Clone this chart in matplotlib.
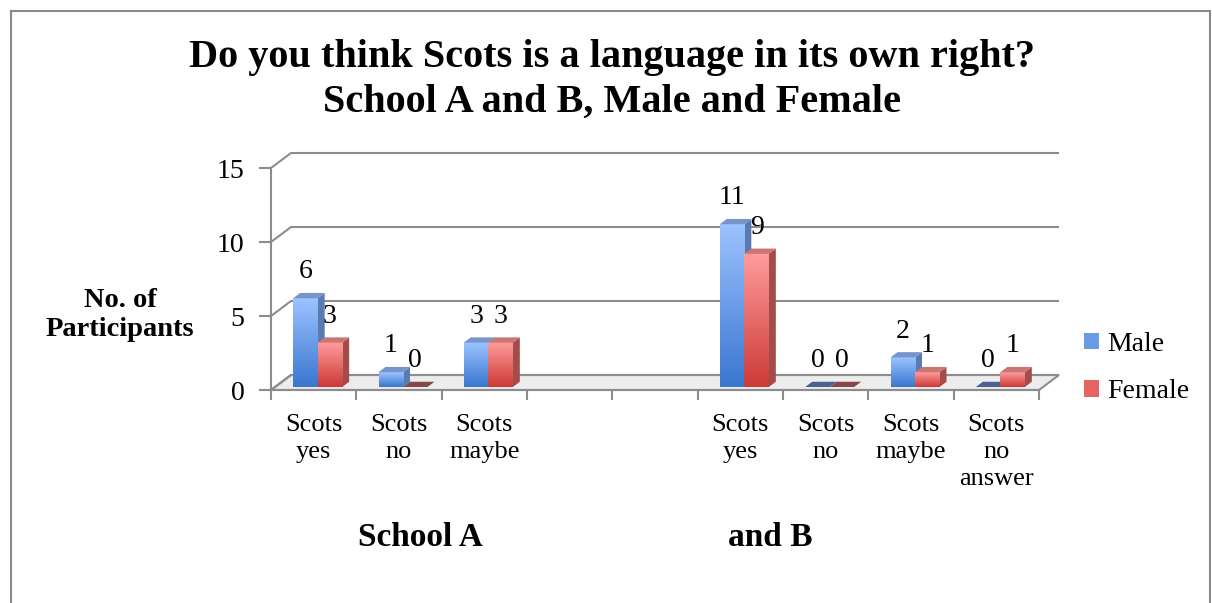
import numpy as np
import matplotlib.pyplot as plt
from matplotlib.patches import Polygon, Rectangle, Patch
from matplotlib.colors import LinearSegmentedColormap

plt.rcParams['font.family'] = ['Liberation Serif', 'DejaVu Serif']

# chart data
categories = ['Scots\nyes', 'Scots\nno', 'Scots\nmaybe', '', '',
              'Scots\nyes', 'Scots\nno', 'Scots\nmaybe', 'Scots\nno\nanswer']
male = [6, 1, 3, None, None, 11, 0, 2, 0]
female = [3, 0, 3, None, None, 9, 0, 1, 1]
series_names = ['Male', 'Female']
group_labels = ['School A', 'and B']
y_ticks = [0, 5, 10, 15]

W, H = 1212, 603
fig = plt.figure(figsize=(W / 100, H / 100), dpi=100)
fig.patch.set_facecolor('white')

# outer chart border
fig.patches.append(Rectangle((11 / W, -0.1), 1199 / W, 1 - 11 / H + 0.1,
                             transform=fig.transFigure, fill=False,
                             edgecolor='#8a8a8a', lw=1.5))

ax = fig.add_axes([271 / W, (H - 390) / H, 768 / W, 222 / H])
n = len(categories)

grid_col = '#8c8c8c'
DX, DY = 20 / 85.33, 15 / 14.8   # depth of the 3d box in data units
d0, d1 = 0.2, 0.55               # bar front / back depth fraction

# floor
ax.add_patch(Polygon([(0, 0), (n, 0), (n + DX, DY), (DX, DY)], closed=True,
                     facecolor='#ececec', edgecolor=grid_col, lw=1.5,
                     clip_on=False, zorder=1))
# back wall and side wall gridlines
for v in y_ticks:
    ax.plot([0, DX, n + DX], [v, v + DY, v + DY], color=grid_col, lw=1.5,
            clip_on=False, zorder=1, solid_capstyle='butt')

for s in ['top', 'right']:
    ax.spines[s].set_visible(False)
for s in ['left', 'bottom']:
    ax.spines[s].set_color(grid_col)
    ax.spines[s].set_linewidth(1.5)
    ax.spines[s].set_zorder(2)

ax.set_yticks(y_ticks)
ax.set_yticklabels([str(t) for t in y_ticks], fontsize=20)
ax.tick_params(axis='y', length=9, width=1.5, color=grid_col, pad=10)
ax.set_xticks(range(n + 1))
ax.set_xticklabels([])
ax.set_xticks(np.arange(n) + 0.5, minor=True)
ax.set_xticklabels(categories, minor=True, fontsize=19, linespacing=1.3,
                   va='top')
ax.tick_params(axis='x', which='major', length=7, width=1.5, color=grid_col)
ax.tick_params(axis='x', which='minor', length=0, pad=17)

blue_cmap = LinearSegmentedColormap.from_list('b', ['#3a76cf', '#9cc3ff'])
red_cmap = LinearSegmentedColormap.from_list('r', ['#cc3a36', '#ff9c9c'])
grad = np.linspace(0, 1, 128).reshape(-1, 1)

w = 0.287
ox, oy = d0 * DX, d0 * DY
o1x, o1y = d1 * DX, d1 * DY


def draw_bar(xl, v, cmap, side_col, top_col, flat_col):
    xr = xl + w
    if v == 0:
        ax.add_patch(Polygon([(xl + ox, oy), (xr + ox, oy), (xr + o1x, o1y),
                              (xl + o1x, o1y)], closed=True,
                             facecolor=flat_col, edgecolor='none', zorder=3))
        return
    ax.add_patch(Polygon([(xr + ox, oy), (xr + o1x, o1y), (xr + o1x, v + o1y),
                          (xr + ox, v + oy)], closed=True,
                         facecolor=side_col, edgecolor='none', zorder=3))
    ax.imshow(grad, cmap=cmap, origin='lower', aspect='auto',
              extent=[xl + ox, xr + ox, oy, v + oy], zorder=4)
    ax.add_patch(Polygon([(xl + ox, v + oy), (xr + ox, v + oy),
                          (xr + o1x, v + o1y), (xl + o1x, v + o1y)],
                         closed=True, facecolor=top_col, edgecolor='none',
                         zorder=4))


for i in range(n):
    if male[i] is None:
        continue
    c = i + 0.5
    draw_bar(c - w, male[i], blue_cmap, '#5a7bb2', '#7595cb', '#4a6192')
    draw_bar(c, female[i], red_cmap, '#a34c4a', '#c97674', '#86484a')
    for xl, v in [(c - w, male[i]), (c, female[i])]:
        ax.annotate(str(v), (xl + w / 2 + ox, v + oy), xytext=(0, 19),
                    textcoords='offset points', ha='center', va='center',
                    fontsize=20, zorder=6)

ax.set_xlim(0, n)
ax.set_ylim(0, 15)

# titles and labels
fig.text(612 / W, 1 - 80 / H,
         'Do you think Scots is a language in its own right?\n'
         'School A and B, Male and Female',
         ha='center', va='center', fontsize=29, fontweight='bold',
         linespacing=1.27)
fig.text(120 / W, 1 - 315 / H, 'No. of\nParticipants', ha='center',
         va='center', fontsize=20.5, fontweight='bold', linespacing=1.2)
fig.text(420 / W, 1 - 537 / H, group_labels[0], ha='center', va='center',
         fontsize=24, fontweight='bold')
fig.text(770 / W, 1 - 537 / H, group_labels[1], ha='center', va='center',
         fontsize=24, fontweight='bold')

handles = [Patch(facecolor='#6a9be6', edgecolor='none'),
           Patch(facecolor='#e66563', edgecolor='none')]
fig.legend(handles, series_names, loc='center left',
           bbox_to_anchor=(1070 / W, 1 - 368 / H), frameon=False,
           fontsize=20, handlelength=0.55, handleheight=0.55,
           handletextpad=0.3, labelspacing=0.8, borderpad=0)

fig.savefig('out.png', dpi=100, facecolor='white')
